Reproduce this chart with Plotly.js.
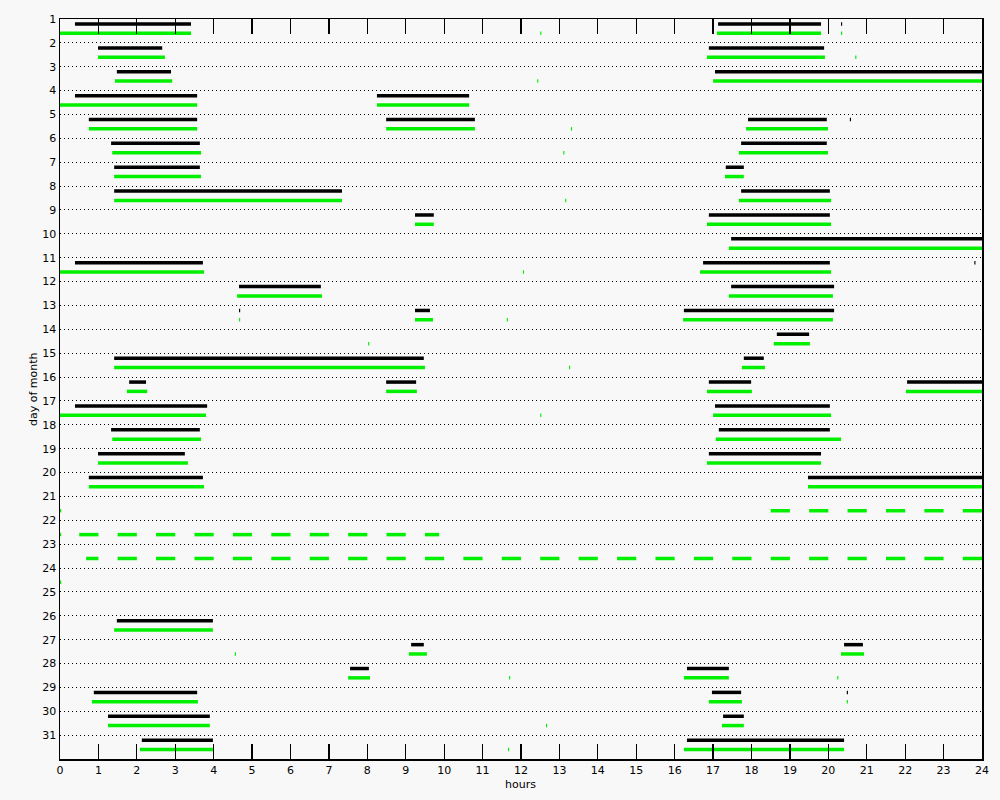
<!DOCTYPE html>
<html>
<head>
<meta charset="utf-8">
<script src="https://cdn.plot.ly/plotly-3.0.1.min.js"></script>
<style>html,body{margin:0;padding:0;background:#f8f8f8;}</style>
</head>
<body>
<div id="chart" style="width:1000px;height:800px;"></div>
<script>
// ---- data ----
const dayTicks = [1,2,3,4,5,6,7,8,9,10,11,12,13,14,15,16,17,18,19,20,21,22,23,24,25,26,27,28,29,30,31];
const hourTicks = [0,1,2,3,4,5,6,7,8,9,10,11,12,13,14,15,16,17,18,19,20,21,22,23,24];
const legendNames = ["COR1", "COR2", "EUVI"];

// COR1 packet intervals (day, start hour, end hour)
const cor1Day   = [1,1,1, 2,2, 3,3, 4,4, 5,5,5,5, 6,6, 7,7, 8,8, 9,9, 10, 11,11,11, 12,12, 13,13,13, 14, 15,15, 16,16,16,16, 17,17, 18,18, 19,19, 20,20, 26, 27,27, 28,28, 29,29,29, 30,30, 31,31];
const cor1Start = [0.39,17.13,20.33, 0.99,16.89, 1.48,17.05, 0.39,8.25, 0.75,8.49,17.91,20.56, 1.33,17.73, 1.41,17.33, 1.41,17.73, 9.24,16.89, 17.47, 0.39,16.74,23.80, 4.66,17.47, 4.66,9.24,16.24, 18.66, 1.41,17.80, 1.80,8.49,16.89,22.05, 0.39,17.05, 1.33,17.15, 0.99,16.89, 0.75,19.47, 1.48, 9.14,20.41, 7.55,16.32, 0.88,16.97,20.48, 1.25,17.26, 2.13,16.32];
const cor1End   = [3.41,19.81,20.36, 2.66,19.89, 2.89,24.00, 3.57,10.65, 3.57,10.80,19.96,20.59, 3.64,19.96, 3.64,17.80, 7.34,20.04, 9.73,20.04, 24.00, 3.72,20.04,23.83, 6.79,20.15, 4.69,9.63,20.15, 19.50, 9.47,18.32, 2.24,9.27,17.99,24.00, 3.83,20.04, 3.64,20.04, 3.25,19.81, 3.72,24.00, 3.98, 9.47,20.90, 8.04,17.41, 3.57,17.73,20.51, 3.90,17.80, 3.98,20.41];

// EUVI packet intervals (day, start hour, end hour)
const euviDay = [
  1,1,1,1, 2,2,2, 3,3,3, 4,4, 5,5,5,5, 6,6,6, 7,7, 8,8,8, 9,9, 10, 11,11,11, 12,12, 13,13,13,13, 14,14, 15,15,15, 16,16,16,16, 17,17,17, 18,18, 19,19, 20,20,
  21,21,21,21,21,21,21,
  22,22,22,22,22,22,22,22,22,22,22,
  23,23,23,23,23,23,23,23,23,23,23,23,23,23,23,23,23,23,23,23,23,23,23,23,
  24,
  26, 27,27,27, 28,28,28,28, 29,29,29, 30,30,30, 31,31,31];
const euviStart = [
  0.00,12.50,17.10,20.33, 0.99,16.84,20.70, 1.43,12.42,17.00, 0.00,8.25, 0.75,8.49,13.30,17.86, 1.36,13.10,17.67, 1.41,17.31, 1.41,13.15,17.67, 9.24,16.84, 17.41, 0.00,12.05,16.66, 4.61,17.41, 4.66,9.24,11.63,16.22, 8.02,18.58, 1.41,13.25,17.75, 1.74,8.49,16.84,22.02, 0.00,12.50,17.00, 1.36,17.07, 0.99,16.84, 0.75,19.47,
  0.00,18.50,19.50,20.50,21.50,22.50,23.50,
  0.00,0.50,1.50,2.50,3.50,4.50,5.50,6.50,7.50,8.50,9.50,
  0.68,1.50,2.50,3.50,4.50,5.50,6.50,7.50,8.50,9.50,10.50,11.50,12.50,13.50,14.50,15.50,16.50,17.50,18.50,19.50,20.50,21.50,22.50,23.50,
  0.00,
  1.41, 4.55,9.08,20.33, 7.50,11.69,16.24,20.23, 0.83,16.89,20.48, 1.25,12.65,17.23, 2.08,11.66,16.24];
const euviEnd = [
  3.41,12.53,19.81,20.36, 2.73,19.91,20.73, 2.92,12.45,24.00, 3.57,10.65, 3.57,10.80,13.33,19.99, 3.67,13.13,19.99, 3.67,17.80, 7.34,13.18,20.07, 9.73,20.07, 24.00, 3.75,12.08,20.07, 6.82,20.12, 4.69,9.71,11.66,20.12, 8.05,19.52, 9.50,13.28,18.35, 2.27,9.29,18.01,24.00, 3.80,12.53,20.07, 3.67,20.33, 3.33,19.81, 3.75,24.00,
  0.03,19.00,20.00,21.00,22.00,23.00,24.00,
  0.03,1.00,2.00,3.00,4.00,5.00,6.00,7.00,8.00,9.00,9.87,
  1.00,2.00,3.00,4.00,5.00,6.00,7.00,8.00,9.00,10.00,11.00,12.00,13.00,14.00,15.00,16.00,17.00,18.00,19.00,20.00,21.00,22.00,23.00,24.00,
  0.03,
  3.98, 4.58,9.55,20.93, 8.07,11.72,17.41,20.26, 3.59,17.75,20.51, 3.90,12.68,17.80, 3.98,11.69,20.41];

// ---- build traces ----
function segTrace(days, starts, ends, offset, color, name) {
  const x = [], y = [];
  for (let i = 0; i < days.length; i++) {
    x.push(starts[i], ends[i], null);
    y.push(days[i] + offset, days[i] + offset, null);
  }
  return {type: 'scatter', mode: 'lines', x: x, y: y, name: name,
          line: {color: color, width: 3.5}, hoverinfo: 'skip', showlegend: false,
          connectgaps: false};
}

const BLACK = '#000000', RED = '#ff0000', GREEN = '#00f000';
const data = [
  segTrace(cor1Day, cor1Start, cor1End, 0.21, BLACK, legendNames[0]),
  segTrace(euviDay, euviStart, euviEnd, 0.60, GREEN, legendNames[2])
];

const font = {family: 'DejaVu Sans, Liberation Sans, sans-serif', size: 11, color: '#000'};

const layout = {
  width: 1000, height: 800,
  paper_bgcolor: '#f8f8f8', plot_bgcolor: '#f8f8f8',
  margin: {l: 60, r: 18, t: 19, b: 41, pad: 0},
  font: font,
  showlegend: false,
  hovermode: false,
  xaxis: {
    range: [0, 24], tickvals: hourTicks, ticktext: hourTicks.map(String),
    ticks: 'inside', ticklen: 15, tickwidth: 1.2, tickcolor: '#000',
    mirror: 'ticks', showline: true, linecolor: '#000', linewidth: 1.5,
    showgrid: false, zeroline: false, fixedrange: true,
    tickfont: {family: font.family, size: 11, color: '#000'}
  },
  yaxis: {
    range: [32, 1], tickvals: dayTicks, ticktext: dayTicks.map(String),
    ticks: '', showline: true, mirror: true, linecolor: '#000', linewidth: 1.5,
    showgrid: true, gridcolor: '#000', gridwidth: 1, griddash: '1px,3px',
    zeroline: false, fixedrange: true,
    tickfont: {family: font.family, size: 11, color: '#000'}
  },
  annotations: [
    {text: 'A  2020-01 SSR2 PACKETS RECEIVED', xref: 'container', yref: 'container',
     x: 0.506, y: 1 - 9/800, xanchor: 'center', yanchor: 'middle', showarrow: false,
     font: {family: font.family, size: 12, color: '#000'}},
    {text: 'day of month', xref: 'paper', yref: 'paper', x: -0.0293, y: 0.5,
     xanchor: 'center', yanchor: 'middle', textangle: -90, showarrow: false,
     font: {family: font.family, size: 11, color: '#000'}},
    {text: 'hours', xref: 'paper', yref: 'paper', x: 0.499, y: -0.035,
     xanchor: 'center', yanchor: 'middle', showarrow: false,
     font: {family: font.family, size: 11, color: '#000'}},
    {text: legendNames[0], xref: 'container', yref: 'container', x: 111/1000, y: 1 - 792/800,
     xanchor: 'center', yanchor: 'middle', showarrow: false,
     font: {family: font.family, size: 11, color: BLACK}},
    {text: legendNames[1], xref: 'container', yref: 'container', x: 189/1000, y: 1 - 792/800,
     xanchor: 'center', yanchor: 'middle', showarrow: false,
     font: {family: font.family, size: 11, color: RED}},
    {text: legendNames[2], xref: 'container', yref: 'container', x: 263/1000, y: 1 - 792/800,
     xanchor: 'center', yanchor: 'middle', showarrow: false,
     font: {family: font.family, size: 11, color: GREEN}}
  ]
};

Plotly.newPlot('chart', data, layout, {displayModeBar: false, staticPlot: true});
</script>
</body>
</html>
